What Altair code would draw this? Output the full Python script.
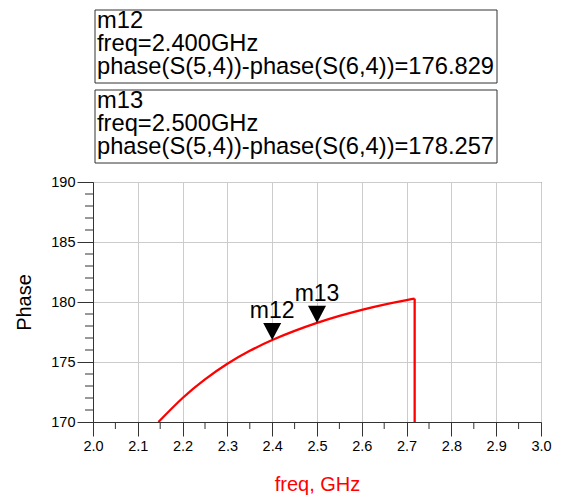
import altair as alt
import pandas as pd

# Curve data
freq = [2.146, 2.2, 2.25, 2.3, 2.35, 2.4, 2.45, 2.5, 2.55, 2.6, 2.65, 2.7, 2.718]
phase = [170.0, 172.0, 173.55, 174.85, 175.93, 176.829, 177.59, 178.257, 178.84, 179.35, 179.79, 180.16, 180.28]
# Phase wrap at the end of the sweep (vertical drop, clipped at the bottom of the plot)
drop_freq = [2.718, 2.718]
drop_phase = [180.28, 170.0]

# Markers
marker_names = ["m12", "m13"]
marker_freq = [2.4, 2.5]
marker_phase = [176.829, 178.257]

# Axis ticks
x_major = [2.0, 2.1, 2.2, 2.3, 2.4, 2.5, 2.6, 2.7, 2.8, 2.9, 3.0]
x_minor = [2.05, 2.15, 2.25, 2.35, 2.45, 2.55, 2.65, 2.75, 2.85, 2.95]
y_major = [170, 175, 180, 185, 190]
y_minor = [171, 172, 173, 174, 176, 177, 178, 179, 181, 182, 183, 184, 186, 187, 188, 189]

FONT = "Liberation Sans"
RED = "#FF0000"
DARK = "#333333"

curve = pd.DataFrame({"freq": freq, "phase": phase})
drop = pd.DataFrame({"freq": drop_freq, "phase": drop_phase, "order": [0, 1]})
markers = pd.DataFrame({"name": marker_names, "freq": marker_freq, "phase": marker_phase})

xscale = alt.Scale(domain=[2.0, 3.0], nice=False, zero=False)
yscale = alt.Scale(domain=[170, 190], nice=False, zero=False)

x_axis = alt.Axis(
    values=x_major, format=".1f", labelFontSize=14.5, labelColor="black",
    tickSize=14, tickColor=DARK, domainColor=DARK, grid=True, gridColor="#CCCCCC",
    labelPadding=3, labelFlush=False, title="freq, GHz", titleColor=RED,
    titleFontSize=20, titleFontWeight="normal", titleY=68,
    titleBaseline="alphabetic")
y_axis = alt.Axis(
    values=y_major, format="d", labelFontSize=14.5, labelColor="black",
    tickSize=16, tickColor=DARK, domainColor=DARK, grid=True, gridColor="#CCCCCC",
    labelPadding=2, labelFlush=False, title="Phase", titleColor="black",
    titleFontSize=20, titleFontWeight="normal", titleX=-63, titleY=120,
    titleAngle=270, titleAlign="center", titleBaseline="alphabetic")


def X(field="freq"):
    return alt.X(f"{field}:Q", scale=xscale, axis=x_axis, title="freq, GHz")


def Y(field="phase"):
    return alt.Y(f"{field}:Q", scale=yscale, axis=y_axis, title="Phase")


line = alt.Chart(curve).mark_line(color=RED, strokeWidth=2.3, clip=True,
                                  interpolate="natural").encode(x=X(), y=Y())
drop_line = alt.Chart(drop).mark_line(color=RED, strokeWidth=2.3, clip=True).encode(
    x=X(), y=Y(), order="order:Q")

xminor = alt.Chart(pd.DataFrame({"freq": x_minor})).mark_rule(color=DARK, strokeWidth=1).encode(
    x=X(), y=alt.value(240), y2=alt.value(247),
)
yminor = alt.Chart(pd.DataFrame({"phase": y_minor})).mark_rule(color=DARK, strokeWidth=1).encode(
    y=Y(), x=alt.value(-8), x2=alt.value(0),
)

tri = alt.Chart(markers).mark_point(
    shape="M-1,-1.9L1,-1.9L0,0Z", size=324, filled=True, color="black", opacity=1
).encode(x=X(), y=Y())
tri_label = alt.Chart(markers).mark_text(
    fontSize=23, font=FONT, color="black", dy=-22, align="center", baseline="alphabetic"
).encode(x=X(), y=Y(), text="name:N")

layers = [line, drop_line, xminor, yminor, tri, tri_label]

# Marker readout boxes
for i, (n, f, p) in enumerate(zip(marker_names, marker_freq, marker_phase)):
    top = -172 + i * 80
    box = alt.Chart(pd.DataFrame({"a": [0]})).mark_rect(
        fill="white", stroke=DARK, strokeWidth=1
    ).encode(x=alt.value(2), x2=alt.value(404), y=alt.value(top), y2=alt.value(top + 73))
    layers.append(box)
    lines = [n, f"freq={f:.3f}GHz", f"phase(S(5,4))-phase(S(6,4))={p:.3f}"]
    for j, t in enumerate(lines):
        txt = alt.Chart(pd.DataFrame({"t": [t]})).mark_text(
            fontSize=23.7, font=FONT, color="black", align="left", baseline="alphabetic"
        ).encode(x=alt.value(4), y=alt.value(top + 18 + j * 23), text="t:N")
        layers.append(txt)

chart = alt.layer(*layers).properties(
    width=448, height=240,
    padding={"left": 85, "top": 174, "right": 14, "bottom": 75},
    autosize=alt.AutoSizeParams(type="none"),
).configure(font=FONT).configure_view(stroke=DARK, strokeWidth=1).configure_axis(
    labelFont=FONT, titleFont=FONT
)

chart.save("out.html", embed_options={"renderer": "svg", "actions": False})
